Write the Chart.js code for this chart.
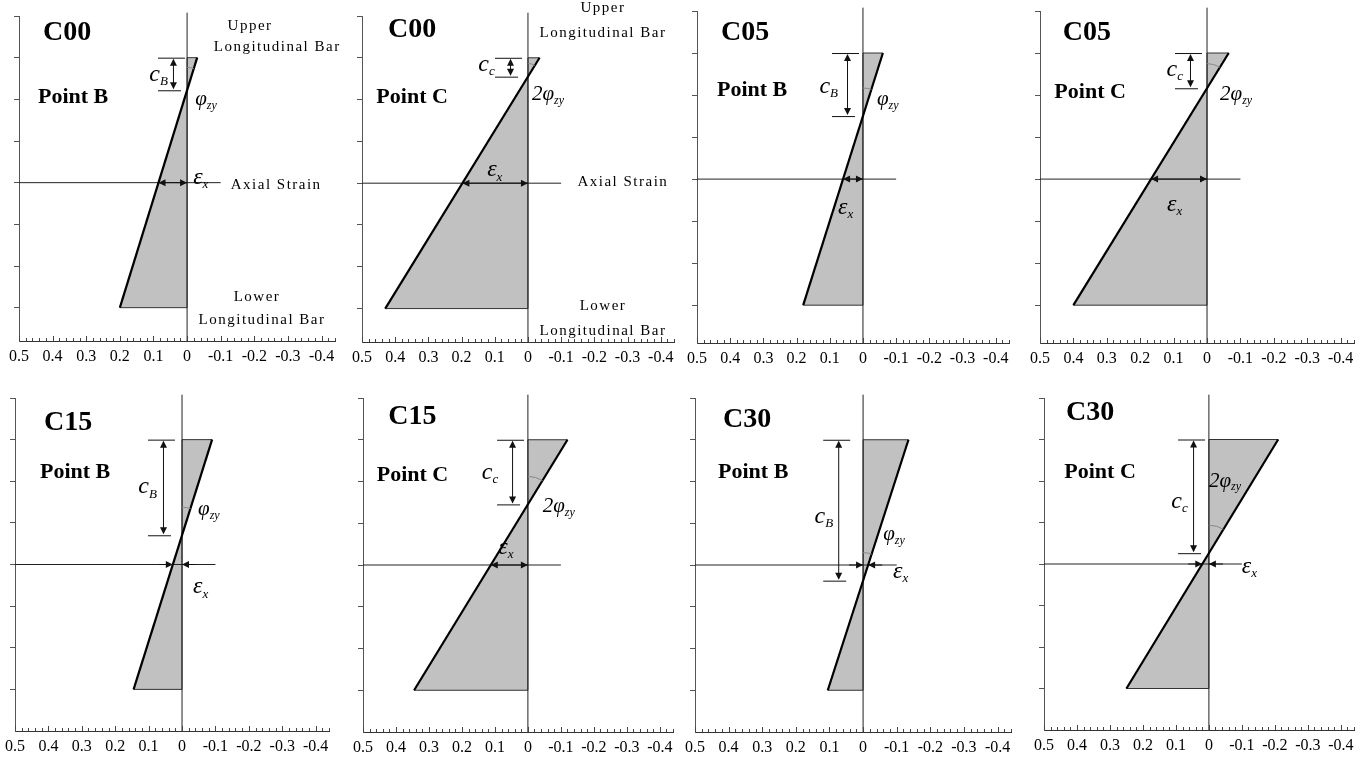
<!DOCTYPE html>
<html><head><meta charset="utf-8">
<script src="https://cdn.jsdelivr.net/npm/chart.js@4.4.0/dist/chart.umd.min.js"></script>
<style>
html,body{margin:0;padding:0;background:#fff;width:1370px;height:760px;overflow:hidden;position:relative}
canvas{position:absolute}
</style></head><body>
<script>
// ---------------- data ----------------
const specimens = ['C00','C00','C05','C05','C15','C15','C30','C30'];
const locations = ['Point B','Point C','Point B','Point C','Point B','Point C','Point B','Point C'];
// axial strain at the upper longitudinal bar (negative = right of zero)
const topStrain = [-0.03, -0.035, -0.06, -0.065, -0.09, -0.12, -0.135, -0.21];
// axial strain at the lower longitudinal bar
const bottomStrain = [0.20, 0.43, 0.18, 0.40, 0.145, 0.345, 0.105, 0.25];
const xTickValues = [0.5, 0.4, 0.3, 0.2, 0.1, 0, -0.1, -0.2, -0.3, -0.4];
const yTickValues = [1, 2, 3, 4, 5, 6, 7, 8];
const upperBarDepth = 7, axialDepth = 4, lowerBarDepth = 1;
const axialLineEnd = -0.1;
const sideTexts = ['Upper', 'Longitudinal Bar', 'Axial Strain', 'Lower', 'Longitudinal Bar'];

// ---------------- layout (pixels / label anchors) ----------------
const PADL = 30, PADT = 25, PADR = 45, PADB = 34;
const layout = [
 {L:19,  T:16,  B:341, xs:336, yMin:0.2, title:[0.357,7.6],  point:[0.339,6.06], dimX:0.042, cLab:[0.057,6.59], phiLab:[-0.024,5.99], epsLab:[-0.018,4.12], sub:'B', two:false,
  side:[[-0.1875,7.77],[-0.268,7.26],[-0.265,3.95],[-0.208,1.26],[-0.223,0.71]]},
 {L:362, T:16,  B:342, xs:332, yMin:0.2, title:[0.349,7.67], point:[0.349,6.06], dimX:0.054, cLab:[0.10,6.83],  phiLab:[-0.012,6.11], epsLab:[0.123,4.31], sub:'c', two:true,
  side:[[-0.226,8.2],[-0.226,7.58],[-0.286,4.02],[-0.226,1.07],[-0.226,0.47]]},
 {L:697, T:11,  B:343, xs:332, yMin:0.1, title:[0.355,7.48], point:[0.334,6.12], dimX:0.048, cLab:[0.075,6.19], phiLab:[-0.042,5.88], epsLab:[0.075,3.31], sub:'B', two:false},
 {L:1040,T:11,  B:343, xs:334, yMin:0.1, title:[0.36,7.48],  point:[0.35,6.07],  dimX:0.051, cLab:[0.072,6.6],  phiLab:[-0.039,6.0],  epsLab:[0.12,3.38],  sub:'c', two:true},
 {L:15,  T:398, B:731, xs:334, yMin:0,   title:[0.341,7.41], point:[0.32,6.21],  dimX:0.057, cLab:[0.075,5.85], phiLab:[-0.048,5.32], epsLab:[-0.033,3.45], sub:'B', two:false},
 {L:363, T:398, B:732, xs:330, yMin:0,   title:[0.35,7.55],  point:[0.35,6.16],  dimX:0.048, cLab:[0.09,6.21],  phiLab:[-0.045,5.39], epsLab:[0.09,4.41],  sub:'c', two:true},
 {L:695, T:398, B:732, xs:336, yMin:0,   title:[0.345,7.48], point:[0.327,6.21], dimX:0.074, cLab:[0.089,5.15], phiLab:[-0.06,4.72],  epsLab:[-0.089,3.83], sub:'B', two:false},
 {L:1044,T:398, B:730, xs:330, yMin:0,   title:[0.36,7.65],  point:[0.33,6.21],  dimX:0.048, cLab:[0.064,5.49], phiLab:[0.0,5.99],    epsLab:[-0.1,3.93],  sub:'c', two:true}
];
const SERIF = '"Liberation Serif", "Times New Roman", serif';

function head(ctx, x, y, ang, len, w){
  len = len || 7; w = w || 3.5;
  ctx.beginPath();
  ctx.moveTo(x, y);
  ctx.lineTo(x - len*Math.cos(ang) + w*Math.sin(ang), y - len*Math.sin(ang) - w*Math.cos(ang));
  ctx.lineTo(x - len*Math.cos(ang) - w*Math.sin(ang), y - len*Math.sin(ang) + w*Math.cos(ang));
  ctx.closePath(); ctx.fill();
}
function sym(ctx, x, y, main, sub, size, align){
  const subSize = Math.round(size*0.55);
  ctx.font = 'italic ' + size + 'px ' + SERIF;
  const w1 = ctx.measureText(main).width;
  ctx.font = 'italic ' + subSize + 'px ' + SERIF;
  const w2 = ctx.measureText(sub).width;
  const x0 = align === 'right' ? x - w1 - w2 : x;
  const base = y + size*0.25;
  ctx.textAlign = 'left'; ctx.textBaseline = 'alphabetic';
  ctx.font = 'italic ' + size + 'px ' + SERIF;
  ctx.fillText(main, x0, base);
  ctx.font = 'italic ' + subSize + 'px ' + SERIF;
  ctx.fillText(sub, x0 + w1, base + size*0.18);
}

const notesPlugin = {
  id: 'notes',
  afterDraw(chart){
    const i = chart.options.plugins.notes.index;
    const cfg = layout[i];
    const sx = chart.scales.x, sy = chart.scales.y;
    const X = v => sx.getPixelForValue(v), Y = v => sy.getPixelForValue(v);
    const ctx = chart.ctx;
    const xTop = topStrain[i], xBot = bottomStrain[i];
    ctx.save();
    // inward minor ticks on the strain axis
    ctx.strokeStyle = '#444'; ctx.lineWidth = 1;
    const yb = chart.chartArea.bottom;
    for (let k = 0; k <= 47; k++){
      const v = 0.5 - k*0.02;
      const px = Math.round(X(v)) + 0.5;
      const len = (k % 5 === 0) ? 5 : 3;
      ctx.beginPath(); ctx.moveTo(px, yb); ctx.lineTo(px, yb - len); ctx.stroke();
    }
    // titles
    ctx.fillStyle = '#000';
    ctx.textAlign = 'center'; ctx.textBaseline = 'middle';
    ctx.font = 'bold 28px ' + SERIF;
    ctx.fillText(specimens[i], X(cfg.title[0]), Y(cfg.title[1]));
    ctx.font = 'bold 22px ' + SERIF;
    ctx.fillText(locations[i], X(cfg.point[0]), Y(cfg.point[1]));
    // side texts
    if (cfg.side){
      ctx.font = '15px ' + SERIF;
      ctx.letterSpacing = '1.5px';
      cfg.side.forEach((p, k) => ctx.fillText(sideTexts[k], X(p[0]), Y(p[1])));
      ctx.letterSpacing = '0px';
    }
    // neutral axis & axial crossing from data
    const tNA = (0 - xTop) / (xBot - xTop);
    const yNA = upperBarDepth - (upperBarDepth - lowerBarDepth) * tNA;
    const xc = xTop + (xBot - xTop) * (upperBarDepth - axialDepth) / (upperBarDepth - lowerBarDepth);
    // angle arc
    const cx = X(0), cy = Y(yNA);
    const ang = Math.atan2(Y(upperBarDepth) - cy, X(xTop) - cx);
    const r = Math.min(28, 0.7 * (cy - Y(upperBarDepth)));
    ctx.strokeStyle = '#888'; ctx.lineWidth = 1;
    ctx.beginPath(); ctx.arc(cx, cy, r, -Math.PI/2, ang, false); ctx.stroke();
    // c dimension
    ctx.strokeStyle = '#111'; ctx.fillStyle = '#111'; ctx.lineWidth = 1;
    const dx = X(cfg.dimX), y7 = Y(upperBarDepth), yn = Y(yNA);
    ctx.beginPath();
    ctx.moveTo(dx - 15, y7 + 0.5); ctx.lineTo(dx + 12, y7 + 0.5);
    ctx.moveTo(dx - 15, yn + 0.5); ctx.lineTo(dx + 8, yn + 0.5);
    ctx.moveTo(dx + 0.5, y7 + 2); ctx.lineTo(dx + 0.5, yn - 2);
    ctx.stroke();
    head(ctx, dx + 0.5, y7 + 1, -Math.PI/2, 7, 3.5);
    head(ctx, dx + 0.5, yn - 1, Math.PI/2, 7, 3.5);
    // epsilon arrows
    const ya = Y(axialDepth);
    const pa = Math.min(X(xc), X(0)), pb = Math.max(X(xc), X(0));
    ctx.beginPath();
    if (pb - pa >= 16){
      ctx.moveTo(pa, ya); ctx.lineTo(pb, ya); ctx.stroke();
      head(ctx, pa, ya, Math.PI, 7, 3.5); head(ctx, pb, ya, 0, 7, 3.5);
    } else {
      ctx.moveTo(pa - 14, ya); ctx.lineTo(pa, ya);
      ctx.moveTo(pb + 14, ya); ctx.lineTo(pb, ya); ctx.stroke();
      head(ctx, pa, ya, 0, 7, 3.5); head(ctx, pb, ya, Math.PI, 7, 3.5);
    }
    // symbols
    ctx.fillStyle = '#000';
    sym(ctx, X(cfg.cLab[0]), Y(cfg.cLab[1]), 'c', cfg.sub, 24, 'right');
    sym(ctx, X(cfg.phiLab[0]), Y(cfg.phiLab[1]), cfg.two ? '2\u03C6' : '\u03C6', 'zy', 21, 'left');
    sym(ctx, X(cfg.epsLab[0]), Y(cfg.epsLab[1]), '\u03B5', 'x', 24, 'left');
    ctx.restore();
  }
};

function fmt(v){ return v === 0 ? '0' : String(Math.round(v*10)/10); }

layout.forEach((cfg, i) => {
  const W = Math.round(0.94*cfg.xs) + PADL + PADR;
  const H = (cfg.B - cfg.T) + PADT + PADB;
  const c = document.createElement('canvas');
  c.width = W; c.height = H;
  c.style.left = (cfg.L - PADL) + 'px'; c.style.top = (cfg.T - PADT) + 'px';
  c.style.width = W + 'px'; c.style.height = H + 'px';
  document.body.appendChild(c);
  const xTop = topStrain[i], xBot = bottomStrain[i];
  new Chart(c, {
    type: 'scatter',
    data: { datasets: [
      { label:'profile', data:[{x:xTop,y:upperBarDepth},{x:xBot,y:lowerBarDepth}], showLine:true, borderColor:'#000', borderWidth:2.2, pointRadius:0, order:1, clip:false },
      { label:'axial', data:[{x:0.5,y:axialDepth},{x:axialLineEnd,y:axialDepth}], showLine:true, borderColor:'#222', borderWidth:1, pointRadius:0, order:2, clip:false },
      { label:'zero', data:[{x:0,y:cfg.yMin},{x:0,y:8.08}], showLine:true, borderColor:'#222', borderWidth:1, pointRadius:0, order:3, clip:false },
      { label:'section', data:[{x:0,y:upperBarDepth},{x:xTop,y:upperBarDepth},{x:xBot,y:lowerBarDepth},{x:0,y:lowerBarDepth},{x:0,y:upperBarDepth}],
        showLine:true, fill:'shape', backgroundColor:'rgb(193,193,193)', borderColor:'#333', borderWidth:1, pointRadius:0, order:4, clip:false }
    ]},
    options: {
      responsive:false, animation:false, devicePixelRatio:1,
      layout:{ padding:{ left:0, top:PADT, right:PADR, bottom:0 } },
      plugins:{ legend:{display:false}, tooltip:{enabled:false}, notes:{ index:i } },
      scales:{
        x:{ type:'linear', reverse:true, min:-0.44, max:0.5,
            afterBuildTicks: s => { s.ticks = xTickValues.map(v => ({value:v})); },
            afterFit: s => { s.height = PADB; },
            grid:{ display:true, drawOnChartArea:false, drawTicks:false },
            border:{ display:true, color:'#333', width:1 },
            ticks:{ color:'#000', font:{ family:SERIF, size:16 }, padding:6, maxRotation:0, autoSkip:false, callback:(v) => fmt(v) } },
        y:{ type:'linear', min:cfg.yMin, max:8,
            afterBuildTicks: s => { s.ticks = yTickValues.map(v => ({value:v})); },
            afterFit: s => { s.width = PADL; },
            grid:{ display:true, drawOnChartArea:false, drawTicks:true, tickLength:5, color:'#555' },
            border:{ display:true, color:'#555', width:1 },
            ticks:{ display:false } }
      }
    },
    plugins:[notesPlugin]
  });
});
</script>
</body></html>
